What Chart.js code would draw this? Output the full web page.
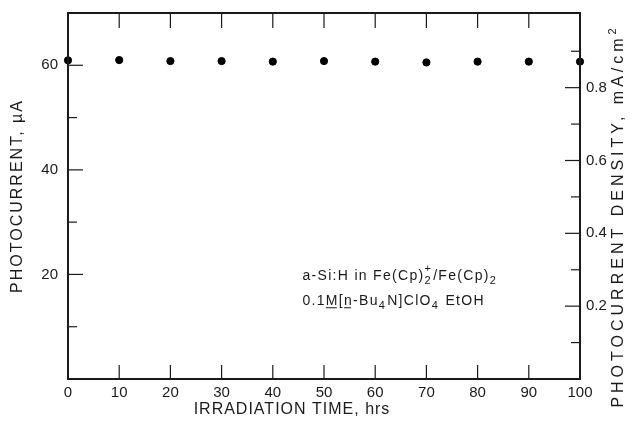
<!DOCTYPE html>
<html>
<head>
<meta charset="utf-8">
<script src="https://cdn.jsdelivr.net/npm/chart.js@4.4.1/dist/chart.umd.min.js"></script>
<style>
  html, body { margin: 0; padding: 0; background: #fff; }
  #wrap { width: 633px; height: 425px; position: relative; }
</style>
</head>
<body>
<div id="wrap"><canvas id="c" width="633" height="425"></canvas></div>
<script>
// ---- data ----
const hours = [0, 10, 20, 30, 40, 50, 60, 70, 80, 90, 100];
const photocurrent = [60.95, 61.0, 60.8, 60.8, 60.7, 60.8, 60.7, 60.55, 60.7, 60.7, 60.7];
const xTickLabels = [0, 10, 20, 30, 40, 50, 60, 70, 80, 90, 100];
const leftTickLabels = [20, 40, 60];
const leftMinorTicks = [10, 30, 50];
const rightTickLabels = [0.2, 0.4, 0.6, 0.8];
const rightMinorTicks = [0.1, 0.3, 0.5, 0.7, 0.9];
const xTitle = 'IRRADIATION TIME, hrs';
const yTitle = 'PHOTOCURRENT, \u00B5A';
const y2Title = 'PHOTOCURRENT DENSITY, mA/cm';

const INK = '#1a1a1a';
const FONT = '"Liberation Sans", Arial, sans-serif';

const framePlugin = {
  id: 'frameTicksText',
  afterDraw(chart) {
    const { ctx, chartArea: a, scales } = chart;
    const x = scales.x, y = scales.y, y2 = scales.y2;
    ctx.save();
    ctx.strokeStyle = INK;
    ctx.lineCap = 'butt';
    // inward ticks
    ctx.lineWidth = 1.2;
    const seg = (x1, y1, x2, y2_) => { ctx.beginPath(); ctx.moveTo(x1, y1); ctx.lineTo(x2, y2_); ctx.stroke(); };
    xTickLabels.slice(1, -1).forEach(v => {
      const px = x.getPixelForValue(v);
      seg(px, a.bottom, px, a.bottom - 14);
      seg(px, a.top, px, a.top + 15);
    });
    leftTickLabels.forEach(v => { const py = y.getPixelForValue(v); seg(a.left, py, a.left + 15, py); });
    leftMinorTicks.forEach(v => { const py = y.getPixelForValue(v); seg(a.left, py, a.left + 9, py); });
    rightTickLabels.forEach(v => { const py = y2.getPixelForValue(v); seg(a.right, py, a.right - 15, py); });
    rightMinorTicks.forEach(v => { const py = y2.getPixelForValue(v); seg(a.right, py, a.right - 9, py); });
    // frame
    ctx.lineWidth = 2;
    ctx.strokeRect(a.left, a.top, a.right - a.left, a.bottom - a.top);

    // axis titles
    ctx.fillStyle = INK;
    ctx.textBaseline = 'middle';
    ctx.textAlign = 'center';
    ctx.font = '16px ' + FONT;
    ctx.letterSpacing = '1px';
    ctx.fillText(xTitle, 292, 410);

    ctx.save();
    ctx.translate(18, 196);
    ctx.rotate(-Math.PI / 2);
    ctx.letterSpacing = '2px';
    ctx.fillText(yTitle, 0, 0);
    ctx.restore();

    ctx.save();
    ctx.translate(619, 216);
    ctx.rotate(-Math.PI / 2);
    ctx.letterSpacing = '4px';
    ctx.font = '16px ' + FONT;
    const w = ctx.measureText(y2Title).width;
    ctx.textAlign = 'left';
    ctx.fillText(y2Title, -w / 2 - 5, 0);
    ctx.font = '11px ' + FONT;
    ctx.fillText('2', w / 2 - 5, -6);
    ctx.restore();

    // annotation
    ctx.letterSpacing = '1.3px';
    const drawLine = (parts, x0, yb) => {
      let cx = x0;
      ctx.textAlign = 'left';
      ctx.textBaseline = 'alphabetic';
      parts.forEach(p => {
        const [t, mode] = p;
        if (mode === 'sub' || mode === 'subsup') {
          ctx.font = '11px ' + FONT;
          ctx.fillText(t, cx, yb + 4);
          let w = ctx.measureText(t).width;
          if (mode === 'subsup') { ctx.fillText('+', cx, yb - 8); w = Math.max(w, ctx.measureText('+').width); }
          cx += w + 1;
        } else {
          ctx.font = '14px ' + FONT;
          ctx.fillText(t, cx, yb);
          const w = ctx.measureText(t).width;
          if (mode === 'u') {
            ctx.lineWidth = 1;
            seg(cx, yb + 3, cx + w - 2, yb + 3);
          }
          cx += w;
        }
      });
    };
    const ax = x.getPixelForValue(45.8);
    drawLine([['a-Si:H in Fe(Cp)', 'n'], ['2', 'subsup'], ['/Fe(Cp)', 'n'], ['2', 'sub']], ax, y.getPixelForValue(19.0));
    drawLine([['0.1', 'n'], ['M', 'u'], ['[', 'n'], ['n', 'u'], ['-Bu', 'n'], ['4', 'sub'], ['N]ClO', 'n'], ['4', 'sub'], [' EtOH', 'n']], ax, y.getPixelForValue(14.2));
    ctx.restore();
  }
};

const noPad = s => { s.paddingTop = 0; s.paddingBottom = 0; s.paddingLeft = 0; s.paddingRight = 0; };

new Chart(document.getElementById('c'), {
  type: 'scatter',
  data: {
    datasets: [{
      data: hours.map((h, i) => ({ x: h, y: photocurrent[i] })),
      backgroundColor: '#000',
      borderColor: '#000',
      pointRadius: 3.6,
      pointHoverRadius: 3.6,
      clip: false,
      yAxisID: 'y'
    }]
  },
  options: {
    responsive: false,
    animation: false,
    events: [],
    layout: { padding: { top: 13, left: 0, right: 0, bottom: 0 } },
    plugins: { legend: { display: false }, tooltip: { enabled: false } },
    scales: {
      x: {
        type: 'linear', min: 0, max: 100,
        grid: { display: false, drawTicks: false },
        border: { display: false },
        ticks: {
          stepSize: 10, padding: 5, color: INK, maxRotation: 0,
          font: { family: FONT, size: 15 },
          callback: v => xTickLabels.includes(v) ? String(v) : ''
        },
        afterFit: s => { s.height = 46; noPad(s); }
      },
      y: {
        type: 'linear', position: 'left', min: 0, max: 70,
        grid: { display: false, drawTicks: false },
        border: { display: false },
        ticks: {
          stepSize: 10, padding: 10, color: INK,
          font: { family: FONT, size: 15 },
          callback: v => leftTickLabels.includes(v) ? String(v) : ''
        },
        afterFit: s => { s.width = 68; noPad(s); }
      },
      y2: {
        type: 'linear', position: 'right', min: 0, max: 1.005,
        grid: { display: false, drawTicks: false },
        border: { display: false },
        ticks: {
          stepSize: 0.1, padding: 6, color: INK,
          font: { family: FONT, size: 15 },
          callback: v => { const r = Math.round(v * 10) / 10; return rightTickLabels.includes(r) ? r.toFixed(1) : ''; }
        },
        afterFit: s => { s.width = 53; noPad(s); }
      }
    }
  },
  plugins: [framePlugin]
});
</script>
</body>
</html>
